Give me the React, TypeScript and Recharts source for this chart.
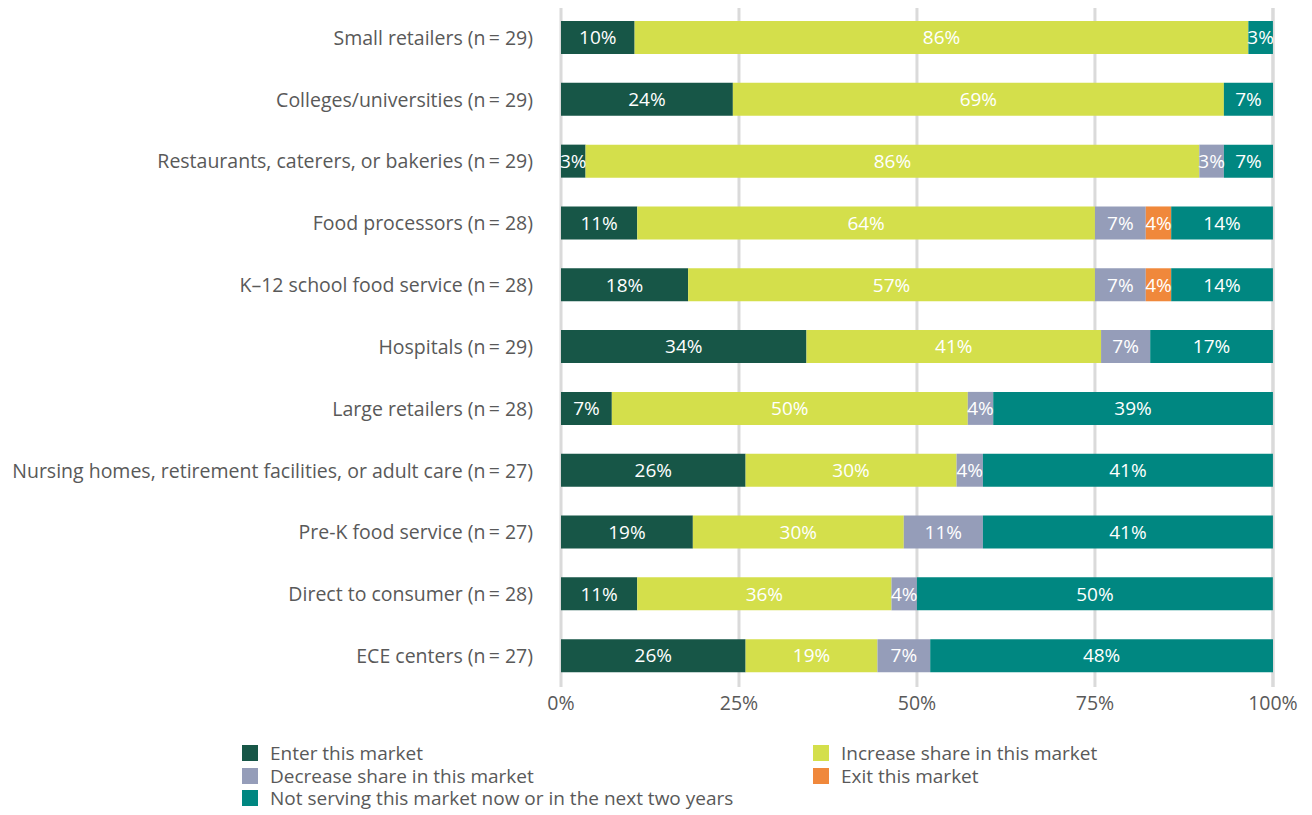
import React from "react";
import { BarChart, Bar, XAxis, YAxis, CartesianGrid, LabelList } from "recharts";

const categories = [
  "Small retailers (n\u2009= 29)",
  "Colleges/universities (n\u2009= 29)",
  "Restaurants, caterers, or bakeries (n\u2009= 29)",
  "Food processors (n\u2009= 28)",
  "K\u201312 school food service (n\u2009= 28)",
  "Hospitals (n\u2009= 29)",
  "Large retailers (n\u2009= 28)",
  "Nursing homes, retirement facilities, or adult care (n\u2009= 27)",
  "Pre-K food service (n\u2009= 27)",
  "Direct to consumer (n\u2009= 28)",
  "ECE centers (n\u2009= 27)",
];

const enterValues = [10.34, 24.14, 3.45, 10.71, 17.86, 34.48, 7.14, 25.93, 18.52, 10.71, 25.93];
const increaseValues = [86.21, 68.97, 86.21, 64.29, 57.14, 41.38, 50.0, 29.63, 29.63, 35.71, 18.52];
const decreaseValues = [0, 0, 3.45, 7.14, 7.14, 6.9, 3.57, 3.7, 11.11, 3.57, 7.41];
const exitValues = [0, 0, 0, 3.57, 3.57, 0, 0, 0, 0, 0, 0];
const notServingValues = [3.45, 6.9, 6.9, 14.29, 14.29, 17.24, 39.29, 40.74, 40.74, 50.0, 48.15];

const xTicks = [0, 25, 50, 75, 100];

const seriesDefs = [
  { key: "enter", name: "Enter this market", color: "#175647", values: enterValues },
  { key: "increase", name: "Increase share in this market", color: "#D4DF4B", values: increaseValues },
  { key: "decrease", name: "Decrease share in this market", color: "#959DB9", values: decreaseValues },
  { key: "exit", name: "Exit this market", color: "#F0883B", values: exitValues },
  { key: "notServing", name: "Not serving this market now or in the next two years", color: "#008781", values: notServingValues },
];

const data = categories.map((c, i) => {
  const row: Record<string, any> = { category: c };
  seriesDefs.forEach((s) => {
    row[s.key] = s.values[i];
  });
  return row;
});

const FONT = "'Open Sans', sans-serif";
const TEXT = "#595959";

const labelFormatter = (v: any) => (v && v > 0 ? `${Math.round(v)}%` : "");

export default function App() {
  return (
    <div style={{ position: "relative", margin: "-8px 0 0 -8px", width: 1312, height: 815, background: "#fff" }}>
      <BarChart
        width={1312}
        height={730}
        data={data}
        layout="vertical"
        margin={{ top: 7, right: 39, left: 0, bottom: 13 }}
        barCategoryGap={0}
      >
        <CartesianGrid horizontal={false} vertical={true} stroke="#DADADA" strokeWidth={3} />
        <XAxis
          type="number"
          domain={[0, 100]}
          ticks={xTicks}
          tickFormatter={(v: number) => `${v}%`}
          axisLine={false}
          tickLine={false}
          tickSize={0}
          tickMargin={9}
          height={30}
          interval={0}
          tick={{ fill: TEXT, fontSize: 19.5, fontFamily: FONT }}
        />
        <YAxis
          type="category"
          dataKey="category"
          width={561}
          axisLine={false}
          tickLine={false}
          tickSize={0}
          tickMargin={28}
          interval={0}
          tick={{ fill: TEXT, fontSize: 19.5, fontFamily: FONT }}
        />
        {seriesDefs.map((s) => (
          <Bar key={s.key} dataKey={s.key} name={s.name} stackId="a" fill={s.color} barSize={33} isAnimationActive={false}>
            <LabelList
              dataKey={s.key}
              position="center"
              formatter={labelFormatter}
              fill="#FFFFFF"
              style={{ fontSize: 19, fontFamily: FONT }}
            />
          </Bar>
        ))}
      </BarChart>
      <div
        style={{
          position: "absolute",
          top: 742,
          left: 242,
          display: "grid",
          gridTemplateColumns: "571px 470px",
          fontFamily: FONT,
          fontSize: 19,
          color: TEXT,
          lineHeight: "22.5px",
        }}
      >
        {seriesDefs.map((s) => (
          <div key={s.key} style={{ display: "flex", alignItems: "center", whiteSpace: "nowrap", height: 22.5 }}>
            <span style={{ display: "inline-block", width: 16, height: 16, background: s.color, marginRight: 12, flex: "none" }} />
            <span style={{ lineHeight: "20px", display: "inline-block", height: 20 }}>{s.name}</span>
          </div>
        ))}
      </div>
    </div>
  );
}
